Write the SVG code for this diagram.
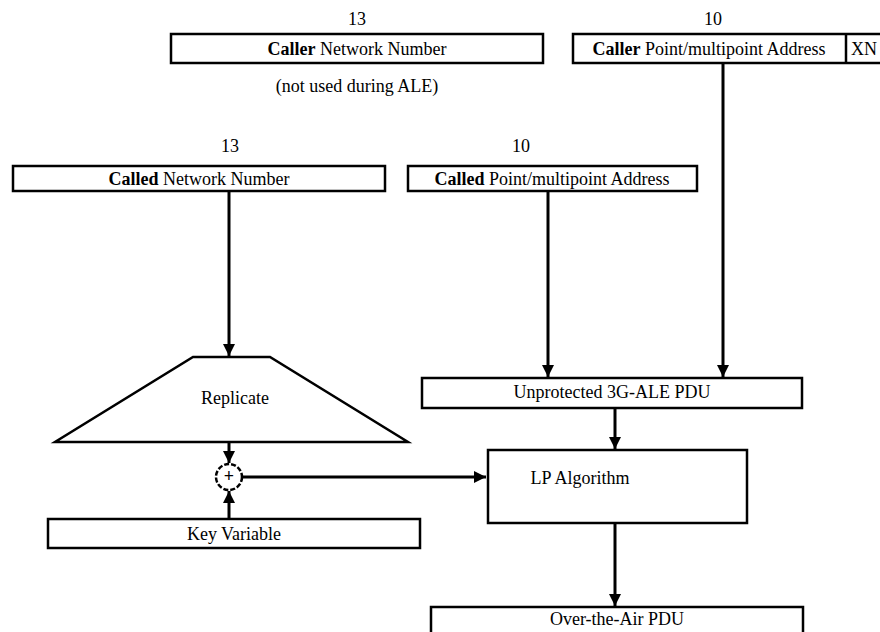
<svg xmlns="http://www.w3.org/2000/svg" width="880" height="632" viewBox="0 0 880 632">
<defs>
<style>
text{font-family:"Liberation Serif","Times New Roman",serif;font-size:18px;fill:#000;text-anchor:middle;dominant-baseline:central}
.box{fill:#fff;stroke:#000;stroke-width:2.5}
.ln{stroke:#000;stroke-width:3;fill:none}
.b{font-weight:bold}
</style>
<marker id="ah" viewBox="0 0 10 10" refX="10" refY="5" markerWidth="4" markerHeight="4.5" orient="auto" markerUnits="strokeWidth">
<path d="M0,0 L10,5 L0,10 z" fill="#000"/>
</marker>
</defs>
<rect width="880" height="632" fill="#fff"/>
<g id="connectors">
<line class="ln" x1="229" y1="191" x2="229" y2="356" marker-end="url(#ah)"/>
<line class="ln" x1="548" y1="191" x2="548" y2="377" marker-end="url(#ah)"/>
<line class="ln" x1="723" y1="62" x2="723" y2="377" marker-end="url(#ah)"/>
<line class="ln" x1="229" y1="442" x2="229" y2="463" marker-end="url(#ah)"/>
<line class="ln" x1="229" y1="519" x2="229" y2="491" marker-end="url(#ah)"/>
<line class="ln" x1="243" y1="477" x2="486" y2="477" marker-end="url(#ah)"/>
<line class="ln" x1="615" y1="408" x2="615" y2="449" marker-end="url(#ah)"/>
<line class="ln" x1="615" y1="523" x2="615" y2="606" marker-end="url(#ah)"/>
</g>
<g id="caller-network">
<text x="357" y="19">13</text>
<rect class="box" x="171" y="34" width="372" height="29"/>
<text x="357" y="49"><tspan class="b">Caller</tspan> Network Number</text>
<text x="357" y="86">(not used during ALE)</text>
</g>
<g id="caller-address">
<text x="713" y="19">10</text>
<rect class="box" x="573" y="34" width="320" height="29"/>
<line class="box" x1="846" y1="34" x2="846" y2="63"/>
<text x="709" y="49"><tspan class="b">Caller</tspan> Point/multipoint Address</text>
<text x="864" y="49">XN</text>
</g>
<g id="called-network">
<text x="230" y="146">13</text>
<rect class="box" x="13" y="166" width="372" height="25"/>
<text x="199" y="179"><tspan class="b">Called</tspan> Network Number</text>
</g>
<g id="called-address">
<text x="521" y="146">10</text>
<rect class="box" x="408" y="166" width="289" height="25"/>
<text x="552" y="179"><tspan class="b">Called</tspan> Point/multipoint Address</text>
</g>
<g id="replicate">
<polygon class="box" points="193,357 270,357 408,442 55,442"/>
<text x="235" y="398">Replicate</text>
</g>
<g id="xor">
<circle cx="229" cy="477" r="13" fill="#fff" stroke="#000" stroke-width="2.5" stroke-dasharray="5 2"/>
<text x="229" y="476" class="b" font-size="15">+</text>
</g>
<g id="key-variable">
<rect class="box" x="48" y="519" width="372" height="29"/>
<text x="234" y="534">Key Variable</text>
</g>
<g id="unprotected">
<rect class="box" x="422" y="378" width="380" height="30"/>
<text x="612" y="392">Unprotected 3G-ALE PDU</text>
</g>
<g id="lp-algorithm">
<rect class="box" x="488" y="450" width="259" height="73"/>
<text x="580" y="478">LP Algorithm</text>
</g>
<g id="over-the-air">
<rect class="box" x="431" y="607" width="372" height="40"/>
<text x="617" y="619">Over-the-Air PDU</text>
</g>
</svg>
